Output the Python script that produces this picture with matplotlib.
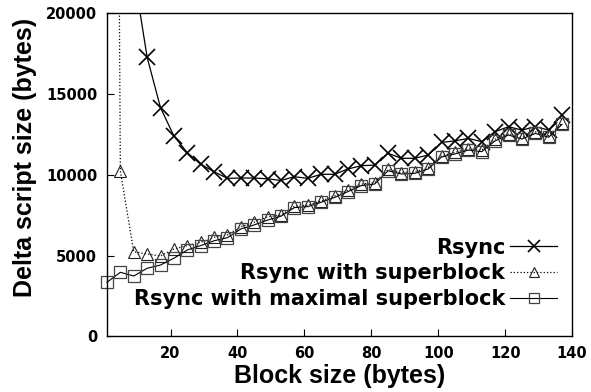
import matplotlib
matplotlib.use("Agg")
import matplotlib.pyplot as plt

plt.rcParams["font.family"] = ["Liberation Sans", "DejaVu Sans"]
plt.rcParams["font.weight"] = "bold"

# block sizes (bytes) and delta script sizes (bytes) per method
block = [1, 5, 9, 13, 17, 21, 25, 29, 33, 37, 41, 45, 49, 53, 57, 61, 65, 69,
         73, 77, 81, 85, 89, 93, 97, 101, 105, 109, 113, 117, 121, 125, 129,
         133, 137]
rsync = [150000, 45000, 22500, 17270, 14150, 12400, 11370, 10650, 10190,
         9780, 9800, 9800, 9750, 9650, 9880, 9780, 10030, 10030, 10360, 10560,
         10600, 11330, 11020, 11020, 11220, 12000, 12100, 12250, 12050, 12670,
         12970, 12770, 12970, 12770, 13700]
superblock = [150000, 10230, 5240, 5100, 4980, 5410, 5620, 5830, 6130, 6280,
              6790, 7060, 7410, 7500, 8050, 8120, 8380, 8680, 9050, 9420,
              9520, 10330, 10140, 10180, 10450, 11170, 11380, 11620, 11520,
              12200, 12550, 12300, 12650, 12410, 13200]
maximal = [3350, 3970, 3740, 4220, 4420, 4840, 5350, 5620, 5920, 6110, 6650,
           6900, 7200, 7440, 7970, 8030, 8300, 8600, 8960, 9330, 9430, 10250,
           10050, 10090, 10360, 11100, 11290, 11530, 11430, 12100, 12460,
           12210, 12560, 12320, 13120]

fig = plt.figure(figsize=(5.91, 3.92), dpi=100)
ax = fig.add_axes([0.181, 0.1416, 0.787, 0.825])

ax.plot(block, rsync, "-", color="black", lw=0.9, marker="x", ms=11,
        mew=1.2, label="Rsync")
ax.plot(block, superblock, ":", color="black", lw=0.9, marker="^", ms=9,
        mfc="none", mec="#222222", mew=0.8, label="Rsync with superblock")
ax.plot(block, maximal, "-", color="black", lw=0.8, marker="s", ms=9,
        mfc="none", mec="#444444", mew=0.9, clip_on=False,
        label="Rsync with maximal superblock")

ax.set_xlim(1, 140)
ax.set_ylim(0, 20000)
ax.set_xticks([20, 40, 60, 80, 100, 120, 140])
ax.set_yticks([0, 5000, 10000, 15000, 20000])
ax.tick_params(direction="in", length=5, width=0.8, pad=7)
for lab in ax.get_xticklabels() + ax.get_yticklabels():
    lab.set_fontfamily("DejaVu Sans")
    lab.set_fontsize(10.5)
    lab.set_fontweight("bold")
for s in ax.spines.values():
    s.set_linewidth(1.0)

ax.set_xlabel("Block size (bytes)", fontsize=18, fontweight="bold", labelpad=2)
ax.set_ylabel("Delta script size (bytes)", fontsize=18, fontweight="bold")
ax.yaxis.set_label_coords(-0.151, 0.553)

leg = ax.legend(loc="lower right", frameon=False, markerfirst=False,
                prop={"family": "DejaVu Sans", "weight": "bold", "size": 15},
                handlelength=2.25, handletextpad=0.25, labelspacing=0.27,
                markerscale=0.75, borderpad=0, borderaxespad=0,
                bbox_to_anchor=(0.968, 0.085))

fig.savefig("out.png", dpi=100)
